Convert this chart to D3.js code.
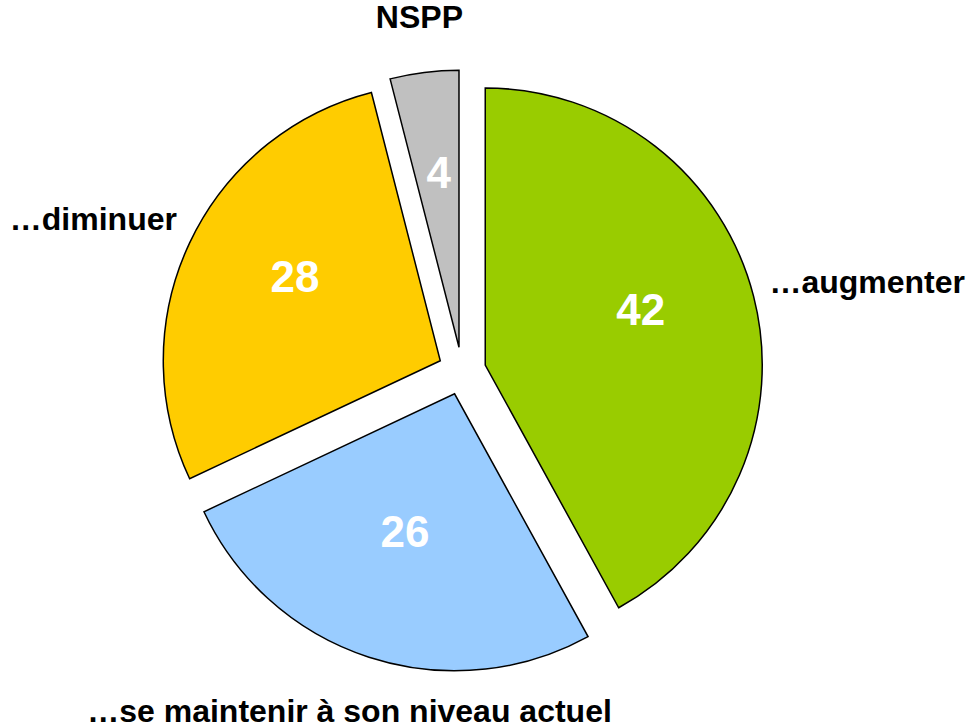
<!DOCTYPE html>
<html>
<head>
<meta charset="utf-8">
<script src="https://cdn.jsdelivr.net/npm/d3@7"></script>
<style>
  body { margin: 0; background: #fff; }
  svg { display: block; }
</style>
</head>
<body>
<svg id="chart"></svg>
<script>
// values, clockwise from 12 o'clock
var categories = ["…augmenter", "…se maintenir à son niveau actuel", "…diminuer", "NSPP"];
var values = [42, 26, 28, 4];
var colors = ["#99cc00", "#99ccff", "#ffcc00", "#c0c0c0"];

var svgWidth = 969, svgHeight = 728;
var cx = 462, cy = 371, radius = 277, explode = 24, labelGap = 38, margin = 4;

var svg = d3.select("#chart")
    .attr("width", svgWidth)
    .attr("height", svgHeight);

var data = categories.map(function (c, i) { return { name: c, value: values[i], color: colors[i] }; });

var pie = d3.pie().sort(null).value(function (d) { return d.value; });
var arc = d3.arc().innerRadius(0).outerRadius(radius);

var slices = pie(data);

var g = svg.append("g").attr("transform", "translate(" + cx + "," + cy + ")");

function dir(d) {
  var a = (d.startAngle + d.endAngle) / 2;
  return [Math.sin(a), -Math.cos(a)];
}

// slices, each pulled out along its middle
var slice = g.selectAll("g.slice")
    .data(slices)
    .enter()
    .append("g")
    .attr("class", "slice")
    .attr("transform", function (d) {
      var u = dir(d);
      return "translate(" + (u[0] * explode) + "," + (u[1] * explode) + ")";
    });

slice.append("path")
    .attr("d", arc)
    .style("fill", function (d) { return d.data.color; })
    .style("stroke", "#000")
    .style("stroke-width", 1.5)
    .style("stroke-linejoin", "miter");

// values inside (baseline on the point)
slice.append("text")
    .text(function (d) { return d.data.value; })
    .attr("x", function (d) { return dir(d)[0] * radius * 0.58; })
    .attr("y", function (d) { return dir(d)[1] * radius * 0.58; })
    .attr("text-anchor", "middle")
    .style("font", "bold 44px 'Liberation Sans', Arial, sans-serif")
    .style("fill", "#fff");

// category labels outside
g.selectAll("text.outer")
    .data(slices)
    .enter()
    .append("text")
    .attr("class", "outer")
    .text(function (d) { return d.data.name; })
    .attr("text-anchor", "middle")
    .attr("dy", "0.35em")
    .style("font", "bold 32px 'Liberation Sans', Arial, sans-serif")
    .style("fill", "#000")
    .each(function (d) {
      var u = dir(d);
      var box = this.getBBox();
      var R = radius + explode + labelGap;
      var sx = Math.sign(u[0]) * Math.pow(Math.abs(u[0]), 3);
      var x = u[0] * R + sx * box.width / 2;
      // keep inside the picture
      var maxX = svgWidth - cx - margin - box.width / 2;
      var minX = -cx + margin + box.width / 2;
      x = Math.max(minX, Math.min(maxX, x));
      d3.select(this)
        .attr("x", x)
        .attr("y", u[1] * R + u[1] * box.height / 2);
    });
</script>
</body>
</html>
